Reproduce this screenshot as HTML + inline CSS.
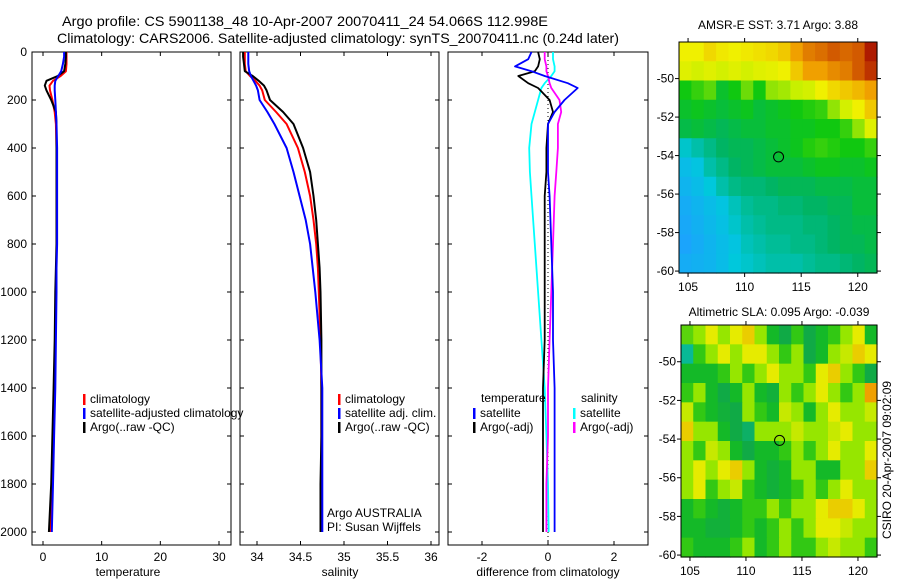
<!DOCTYPE html>
<html><head><meta charset="utf-8"><style>
body{margin:0;background:#fff;}
svg{display:block;font-family:"Liberation Sans",sans-serif;}
</style></head><body>
<svg id="c" width="900" height="580" viewBox="0 0 900 580" xmlns="http://www.w3.org/2000/svg">
<text x="62" y="26" font-size="14" textLength="486" lengthAdjust="spacingAndGlyphs">Argo profile: CS 5901138_48 10-Apr-2007 20070411_24 54.066S 112.998E</text>
<text x="57" y="43" font-size="14" textLength="562" lengthAdjust="spacingAndGlyphs">Climatology: CARS2006. Satellite-adjusted climatology: synTS_20070411.nc (0.24d later)</text>
</svg>
<script>
// ---- data ----
const depthTS=[0,20,50,80,100,120,140,160,200,250,300,400,500,600,700,800,900,1000,1200,1400,1600,1800,2000];
const tempArgo=[3.9,3.9,3.8,3.6,2.5,0.6,0.3,0.6,1.4,2.2,2.3,2.3,2.3,2.3,2.3,2.3,2.2,2.1,2.0,1.8,1.6,1.4,1.0];
const tempClim=[4.0,4.0,4.0,3.9,3.0,1.7,1.1,1.2,1.6,2.0,2.2,2.3,2.3,2.3,2.3,2.3,2.3,2.2,2.1,1.9,1.7,1.5,1.3];
const tempSat=[3.6,3.6,3.4,3.1,2.6,2.1,2.0,2.0,2.1,2.2,2.3,2.4,2.4,2.4,2.4,2.4,2.3,2.3,2.2,2.1,1.9,1.7,1.5];
const salArgo=[33.84,33.84,33.85,33.86,33.95,34.02,34.08,34.11,34.15,34.3,34.42,34.53,34.61,34.65,34.68,34.7,34.72,34.73,34.74,34.74,34.74,34.73,34.73];
const salClim=[33.86,33.86,33.86,33.87,33.92,33.98,34.03,34.06,34.09,34.22,34.34,34.47,34.55,34.61,34.65,34.68,34.7,34.71,34.73,34.74,34.74,34.74,34.74];
const salSat=[33.9,33.9,33.9,33.91,33.93,33.96,33.99,34.01,34.03,34.12,34.2,34.34,34.42,34.49,34.56,34.61,34.64,34.67,34.72,34.75,34.75,34.75,34.75];
const depthDiff=[0,30,60,80,100,130,150,200,250,300,400,500,600,800,1000,1200,1400,1600,1800,2000];
const diffTempSat=[-0.5,-0.6,-1.0,-0.5,-0.1,0.6,0.9,0.5,0.2,0.0,0.0,0.0,0.05,0.1,0.15,0.15,0.2,0.2,0.2,0.2];
const diffTempArgo=[-0.3,-0.25,-0.3,-0.4,-0.9,-0.6,-0.3,0.05,0.15,0.0,-0.05,-0.05,-0.1,-0.1,-0.1,-0.1,-0.15,-0.15,-0.15,-0.15];
const diffSalSat=[0.15,0.15,0.2,0.2,0.1,-0.1,-0.2,-0.3,-0.4,-0.5,-0.57,-0.55,-0.5,-0.4,-0.3,-0.2,-0.1,-0.05,0,0.02];
const diffSalArgo=[-0.1,-0.1,-0.05,-0.05,0.0,0.05,0.1,0.35,0.4,0.3,0.3,0.25,0.2,0.15,0.1,0.05,0.0,0.0,-0.05,-0.05];
const depthTicks=[0,200,400,600,800,1000,1200,1400,1600,1800,2000];
const tempTicks=[0,10,20,30];
const salTicks=[34,34.5,35,35.5,36];
const diffTicks=[-2,0,2];
const lonTicks=[105,110,115,120];
const latTicks=[-50,-52,-54,-56,-58,-60];
const sstGrid=[
[5.5,5.5,5.8,5.6,5.5,5.6,5.7,5.8,6.0,6.5,7.0,7.2,7.5,7.3,7.5,8.0],
[5.2,5.0,5.2,5.0,5.2,5.0,5.2,5.3,5.5,6.0,6.5,6.5,6.8,7.0,7.5,7.8],
[3.8,4.0,4.2,3.6,3.8,4.3,3.8,4.5,4.6,4.8,5.0,5.5,5.8,6.0,6.2,6.5],
[3.6,3.7,3.6,3.5,3.6,3.7,3.5,3.6,3.7,3.8,3.9,4.0,4.5,5.0,5.5,6.0],
[3.4,3.5,3.4,3.3,3.4,3.5,3.5,3.6,3.6,3.7,3.7,3.8,3.8,4.0,4.5,5.2],
[2.6,2.8,3.0,3.2,3.3,3.3,3.4,3.5,3.6,3.7,3.9,4.0,3.9,3.8,3.8,4.0],
[2.2,2.4,2.8,3.0,3.2,3.3,3.4,3.5,3.5,3.5,3.6,3.7,3.7,3.6,3.6,3.7],
[2.0,2.2,2.5,2.8,3.0,3.1,3.1,3.2,3.3,3.3,3.3,3.4,3.4,3.4,3.5,3.5],
[1.8,2.0,2.2,2.4,2.7,2.9,3.0,3.0,3.1,3.1,3.2,3.2,3.3,3.3,3.5,3.5],
[1.7,1.9,2.1,2.3,2.6,2.8,2.9,3.0,3.0,3.0,3.1,3.1,3.2,3.3,3.4,3.4],
[1.6,1.8,2.0,2.2,2.4,2.7,2.8,2.9,2.9,3.0,3.0,3.1,3.2,3.3,3.3,3.4],
[1.8,1.9,2.0,2.2,2.5,2.6,2.7,2.8,2.8,2.8,2.9,3.0,3.0,3.1,3.2,3.3]];
const slaGrid=[
[0.02,0.05,0.1,0.05,0.1,0.12,0.05,-0.05,-0.1,0.0,-0.1,-0.05,0.0,0.05,0.1,-0.05],
[-0.15,0.0,0.05,0.1,0.05,0.1,0.1,0.05,0.0,0.05,-0.1,-0.05,0.05,0.08,0.12,0.1],
[-0.05,-0.05,-0.05,0.0,0.05,0.0,0.05,0.1,0.05,0.05,0.0,0.1,0.12,0.05,0.0,-0.1],
[0.0,0.05,-0.05,-0.1,-0.05,0.05,-0.05,-0.08,0.05,0.0,0.05,0.1,0.05,0.0,0.05,0.15],
[0.08,0.0,-0.05,-0.08,-0.1,0.05,0.0,-0.05,0.08,0.05,-0.05,0.05,0.1,0.05,0.05,0.08],
[0.12,0.05,0.05,-0.05,-0.1,-0.12,0.05,0.05,0.05,0.08,0.05,0.05,0.08,0.1,0.05,0.05],
[0.05,0.0,0.08,0.05,-0.05,-0.1,-0.05,-0.05,0.0,0.05,0.0,0.05,0.1,0.05,0.05,0.1],
[0.05,0.1,0.05,0.1,0.12,0.05,-0.05,-0.08,-0.05,0.05,0.05,-0.05,-0.05,0.05,0.05,0.12],
[0.05,0.1,0.0,0.05,0.08,0.0,-0.05,-0.08,-0.05,0.0,0.05,0.0,0.05,0.1,0.05,0.05],
[-0.05,0.0,-0.05,-0.08,-0.05,0.0,0.0,0.05,0.0,0.05,0.05,0.1,0.12,0.12,0.1,0.05],
[-0.05,-0.05,-0.08,-0.08,-0.05,0.0,-0.05,0.0,0.05,0.0,0.05,0.1,0.1,0.08,0.05,0.05],
[0.0,-0.05,-0.05,-0.05,0.0,0.05,-0.05,0.0,0.05,0.0,0.0,0.05,0.08,0.05,0.05,0.0]];
const floatLon=113.0, floatLat=-54.07;

// ---- helpers ----
const svg=document.getElementById('c');
const NS='http://www.w3.org/2000/svg';
function mk(tag,attrs,parent){const e=document.createElementNS(NS,tag);for(const k in attrs)e.setAttribute(k,attrs[k]);(parent||svg).appendChild(e);return e;}
const Y0=52, PY=0.24;
const yD=d=>Y0+d*PY;
function lin(d0,d1,r0,r1){return v=>r0+(v-d0)*(r1-r0)/(d1-d0);}
const xT=lin(0,30,43,219), xS=lin(34,36,257,431), xDf=lin(0,2,548,614);

function panel(name,x0,x1,xs,ticks,label,labelX,showY){
  const g=mk('g',{});
  
  
  const r=mk('rect',{x:x0,y:Y0,width:x1-x0,height:545-Y0,fill:'none',stroke:'#000','stroke-width':1},g);
  
  
  depthTicks.forEach(d=>{
    mk('line',{x1:x0,x2:x0+4,y1:yD(d),y2:yD(d),stroke:'#000'},g);
    mk('line',{x1:x1,x2:x1-4,y1:yD(d),y2:yD(d),stroke:'#000'},g);
    if(showY){const t=mk('text',{x:x0-5,y:yD(d)+4,'text-anchor':'end','font-size':12},g);t.textContent=d;
      
      }
  });
  ticks.forEach(v=>{
    const X=xs(v);
    mk('line',{x1:X,x2:X,y1:Y0,y2:Y0+4,stroke:'#000'},g);
    mk('line',{x1:X,x2:X,y1:545,y2:541,stroke:'#000'},g);
    const t=mk('text',{x:X,y:561,'text-anchor':'middle','font-size':12},g);t.textContent=v;
    
    
  });
  const l=mk('text',{x:labelX,y:576,'text-anchor':'middle','font-size':12},g);l.textContent=label;
  
  
  return g;
}
function line(g,xs,vals,depths,color,w,name){
  const pts=vals.map((v,i)=>xs(v).toFixed(1)+','+yD(depths[i]).toFixed(1)).join(' ');
  const p=mk('polyline',{points:pts,fill:'none',stroke:color,'stroke-width':w,'stroke-linejoin':'round'},g);
  
  
}
function legend(g,x,y,color,text,name){
  const r=mk('rect',{x:x,y:y-9,width:2.5,height:11,fill:color},g);
  const t=mk('text',{x:x+7,y:y,'font-size':12},g);t.textContent=text;
  const gg=mk('g',{},g);gg.appendChild(r);gg.appendChild(t);
  
  
}
function txt(g,x,y,s,name,extra){const t=mk('text',Object.assign({x:x,y:y,'font-size':12},extra||{}),g);t.textContent=s;
  
  return t;}

// ---- panel 1 temperature ----
const g1=panel('temperature-panel',32,231,xT,tempTicks,'temperature',128,true);
line(g1,xT,tempClim,depthTS,'#f00',2,'climatology-temp-line');
line(g1,xT,tempArgo,depthTS,'#000',2,'argo-temp-line');
line(g1,xT,tempSat,depthTS,'#00f',2,'satellite-temp-line');
legend(g1,83,403,'#f00','climatology','legend-climatology');
legend(g1,83,417,'#00f','satellite-adjusted climatology','legend-satellite');
legend(g1,83,431,'#000','Argo(..raw -QC)','legend-argo');

// ---- panel 2 salinity ----
const g2=panel('salinity-panel',240,439,xS,salTicks,'salinity',340,false);
line(g2,xS,salClim,depthTS,'#f00',2,'climatology-sal-line');
line(g2,xS,salArgo,depthTS,'#000',2,'argo-sal-line');
line(g2,xS,salSat,depthTS,'#00f',2,'satellite-sal-line');
legend(g2,338,403,'#f00','climatology','legend-climatology');
legend(g2,338,417,'#00f','satellite adj. clim.','legend-satellite');
legend(g2,338,431,'#000','Argo(..raw -QC)','legend-argo');
txt(g2,327,517,'Argo AUSTRALIA','data-source-label');
txt(g2,327,531,'PI: Susan Wijffels','pi-label');

// ---- panel 3 difference ----
const g3=panel('difference-panel',448,648,xDf,diffTicks,'difference from climatology',548,false);
const zl=mk('line',{x1:xDf(0),x2:xDf(0),y1:Y0,y2:545,stroke:'#000','stroke-dasharray':'1,3'},g3);


line(g3,xDf,diffSalSat,depthDiff,'#0ff',1.8,'salinity-satellite-diff-line');
line(g3,xDf,diffSalArgo,depthDiff,'#f0f',1.8,'salinity-argo-diff-line');
line(g3,xDf,diffTempArgo,depthDiff,'#000',1.8,'temperature-argo-diff-line');
line(g3,xDf,diffTempSat,depthDiff,'#00f',1.8,'temperature-satellite-diff-line');
txt(g3,481,402,'temperature','legend-temperature-heading');
legend(g3,473,417,'#00f','satellite','legend-temp-satellite');
legend(g3,473,431,'#000','Argo(-adj)','legend-temp-argo');
txt(g3,581,402,'salinity','legend-salinity-heading');
legend(g3,573,417,'#0ff','satellite','legend-sal-satellite');
legend(g3,573,431,'#f0f','Argo(-adj)','legend-sal-argo');

// ---- maps ----
function interp(stops,v){
  if(v<=stops[0][0])return stops[0][1];
  for(let i=1;i<stops.length;i++){if(v<=stops[i][0]){const a=stops[i-1],b=stops[i],t=(v-a[0])/(b[0]-a[0]);
    return [0,1,2].map(k=>Math.round(a[1][k]+(b[1][k]-a[1][k])*t));}}
  return stops[stops.length-1][1];
}
function toRGB(c){return 'rgb('+c.join(',')+')';}
const sstStops=[[1.5,[30,160,255]],[2.5,[0,200,220]],[3.2,[0,180,100]],[3.8,[16,200,16]],[4.8,[200,240,0]],[5.5,[240,240,0]],[6.5,[240,160,0]],[7.5,[210,90,0]],[8.2,[160,0,0]]];
const slaStops=[[-0.2,[0,200,230]],[-0.1,[16,170,70]],[-0.05,[20,185,40]],[0,[50,200,20]],[0.05,[150,230,0]],[0.1,[230,235,0]],[0.15,[240,160,0]]];
const LON0=104.2, LON1=121.7, LAT0=-48.1, LAT1=-60.1;
function map(name,x0,x1,y0,y1,grid,stops,title,titleY){
  const g=mk('g',{});
  
  
  const xL=lin(LON0,LON1,x0,x1), yL=lin(LAT0,LAT1,y0,y1);
  const nr=grid.length,nc=grid[0].length, dlon=(LON1-LON0)/nc, dlat=(LAT1-LAT0)/nr;
  grid.forEach((row,i)=>row.forEach((v,j)=>{
    const xa=xL(LON0+j*dlon), xb=xL(LON0+(j+1)*dlon), ya=yL(LAT0+i*dlat), yb=yL(LAT0+(i+1)*dlat);
    const c=mk('rect',{x:xa,y:ya,width:xb-xa+0.6,height:yb-ya+0.6,fill:toRGB(interp(stops,v))},g);
    
    
  }));
  mk('rect',{x:x0,y:y0,width:x1-x0,height:y1-y0,fill:'none',stroke:'#000'},g);
  lonTicks.forEach(l=>{const X=xL(l);
    mk('line',{x1:X,x2:X,y1:y0,y2:y0-4,stroke:'#000'},g);
    mk('line',{x1:X,x2:X,y1:y1,y2:y1+4,stroke:'#000'},g);
    txt(g,X,y1+18,l,'lon-tick-label',{'text-anchor':'middle'});});
  latTicks.forEach(l=>{const Y=yL(l);
    mk('line',{x1:x0,x2:x0-4,y1:Y,y2:Y,stroke:'#000'},g);
    mk('line',{x1:x1,x2:x1+4,y1:Y,y2:Y,stroke:'#000'},g);
    txt(g,x0-5,Y+4,l,'lat-tick-label',{'text-anchor':'end'});});
  const c=mk('circle',{cx:xL(floatLon),cy:yL(floatLat),r:5,fill:'none',stroke:'#000','stroke-width':1},g);
  
  
  txt(g,(x0+x1)/2,titleY,title,'map-title',{'text-anchor':'middle'});
}
map('sst-map',679,877,42,273,sstGrid,sstStops,'AMSR-E SST: 3.71 Argo: 3.88',29);
map('sla-map',681,877,325,557,slaGrid,slaStops,'Altimetric SLA: 0.095 Argo: -0.039',316);
txt(svg,0,0,'CSIRO 20-Apr-2007 09:02:09','credit-timestamp',{'text-anchor':'middle',transform:'translate(891,460) rotate(-90)'});
</script>
</body></html>
